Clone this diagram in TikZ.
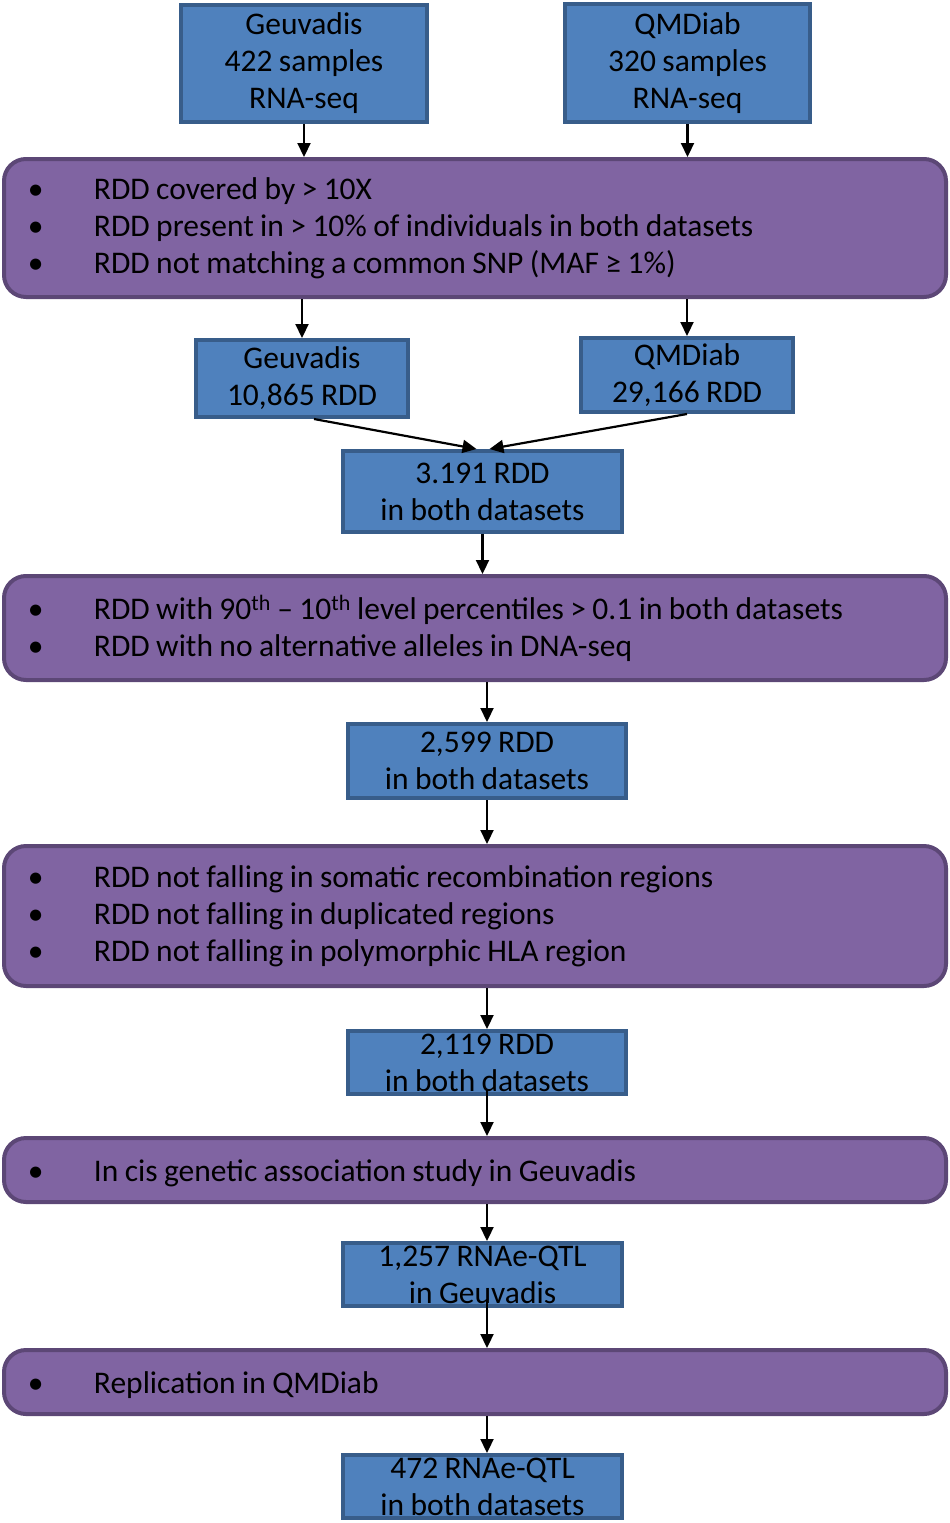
\documentclass[tikz,border=0pt]{standalone}
\usepackage{fontspec}
\setmainfont{Carlito}[WordSpace=0.9]
\usetikzlibrary{arrows.meta}

\definecolor{boxblue}{HTML}{4F81BD}
\definecolor{boxblueline}{HTML}{385D8A}
\definecolor{filterpurple}{HTML}{8064A2}
\definecolor{filterpurpleline}{HTML}{5C4776}

\newcommand{\filteritem}[1]{\makebox[882pt][l]{\makebox[60pt][l]{\hspace*{-6pt}\textbullet}#1}}

\begin{document}
\begin{tikzpicture}[x=1pt, y=-1pt,
    every node/.style={font=\fontsize{31.5}{37}\selectfont, execute at begin node={\rule{0pt}{29pt}}},
    countbox/.style={draw=boxblueline, fill=boxblue, line width=4pt, align=center, inner sep=0pt},
    filterbox/.style={draw=filterpurpleline, fill=filterpurple, line width=4pt, rounded corners=22pt,
      minimum width=942pt, inner xsep=30pt, inner ysep=0pt, align=left},
    flow/.style={-{Triangle[length=14pt,width=13pt]}, line width=2.2pt}]
    \useasboundingbox (0,0) rectangle (950,1523);

    % inputs
    \node[countbox, minimum width=246pt, minimum height=117pt] (geu) at (304,63.5) {Geuvadis\\422 samples\\RNA-seq};
    \node[countbox, minimum width=245pt, minimum height=118pt] (qmd) at (687.5,63) {QMDiab\\320 samples\\RNA-seq};

    \node[filterbox, minimum height=138pt] (cover) at (475,228)
      {\filteritem{RDD covered by > 10X}\\
       \filteritem{RDD present in > 10\% of individuals in both datasets}\\
       \filteritem{RDD not matching a common SNP (MAF ≥ 1\%)}};

    \node[countbox, minimum width=212pt, minimum height=77pt] (geurdd) at (302,378.5) {Geuvadis\\10,865 RDD};
    \node[countbox, minimum width=212pt, minimum height=74pt] (qmdrdd) at (687,375) {QMDiab\\29,166 RDD};
    \node[countbox, minimum width=279pt, minimum height=81pt] (both) at (482.5,491.5) {3.191 RDD\\in both datasets};

    \node[filterbox, minimum height=104pt] (level) at (475,628)
      {\filteritem{RDD with 90\textsuperscript{th} – 10\textsuperscript{th} level percentiles > 0.1 in both datasets}\\
       \filteritem{RDD with no alternative alleles in DNA-seq}};

    \node[countbox, minimum width=278pt, minimum height=74pt] (bothb) at (487,761) {2,599 RDD\\in both datasets};

    \node[filterbox, minimum height=140pt] (region) at (475,916)
      {\filteritem{RDD not falling in somatic recombination regions}\\
       \filteritem{RDD not falling in duplicated regions}\\
       \filteritem{RDD not falling in polymorphic HLA region}};

    \node[countbox, minimum width=278pt, minimum height=63pt] (bothc) at (487,1062.5) {2,119 RDD\\in both datasets};

    \node[filterbox, minimum height=64pt] (assoc) at (475,1170)
      {\filteritem{In cis genetic association study in Geuvadis}};

    \node[countbox, minimum width=279pt, minimum height=63pt] (qtlgeu) at (482.5,1274.5) {1,257 RNAe-QTL\\in Geuvadis};

    \node[filterbox, minimum height=64pt] (repl) at (475,1382)
      {\filteritem{Replication in QMDiab}};

    \node[countbox, minimum width=279pt, minimum height=63pt] (qtlboth) at (482.5,1486.5) {472 RNAe-QTL\\in both datasets};

    % connectors
    \draw[flow] (geu.south) -- (geu.south |- cover.north);
    \draw[flow] (qmd.south) -- (qmd.south |- cover.north);
    \draw[flow] (cover.south -| geurdd) -- (geurdd.north);
    \draw[flow] (cover.south -| qmdrdd) -- (qmdrdd.north);
    \draw[flow] ([xshift=12pt]geurdd.south) -- ([xshift=-6pt]both.north);
    \draw[flow] (qmdrdd.south) -- ([xshift=7pt]both.north);
    \draw[flow] (both.south) -- (both.south |- level.north);
    \draw[flow] (level.south -| bothb) -- (bothb.north);
    \draw[flow] (bothb.south) -- (bothb.south |- region.north);
    \draw[flow] (region.south -| bothc) -- (bothc.north);
    \draw[flow] ([yshift=6pt]bothc.south) -- (bothc.south |- assoc.north);
    \draw[flow] (assoc.south -| bothc) -- (bothc |- qtlgeu.north);
    \draw[flow] ([yshift=9pt]qtlgeu.south -| bothc) -- (bothc |- repl.north);
    \draw[flow] (repl.south -| bothc) -- (bothc |- qtlboth.north);
\end{tikzpicture}
\end{document}
